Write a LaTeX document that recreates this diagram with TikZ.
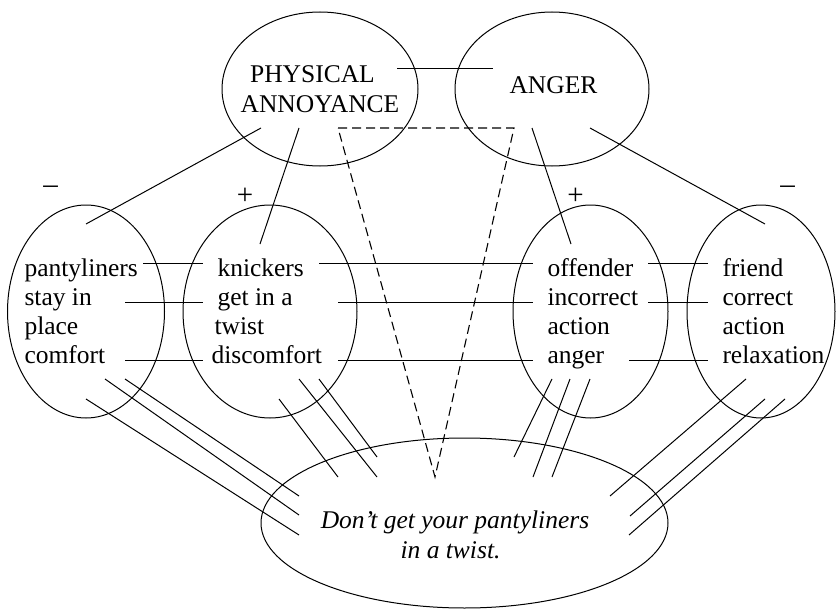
\documentclass[tikz,border=0pt]{standalone}
\usepackage{fontspec}
\setmainfont{Liberation Serif}
\usetikzlibrary{shapes.geometric}
\begin{document}
\begin{tikzpicture}[x=1pt,y=-1pt,line width=1pt,
  oval/.style={draw,ellipse,inner sep=0pt},
  lbl/.style={inner sep=0pt,font=\fontsize{25.5}{29}\selectfont},
  sgn/.style={inner sep=0pt,font=\fontsize{29}{29}\selectfont},
  ital/.style={lbl,font=\fontsize{25.5}{29}\selectfont\itshape},
  dsh/.style={dash pattern=on 9pt off 5pt}]
\useasboundingbox (0,0) rectangle (836,610);
% ellipses
\node[oval,minimum width=196pt,minimum height=154pt] (pa) at (320,89) {};
\node[oval,minimum width=194pt,minimum height=154pt] (an) at (552,89) {};
\node[oval,minimum width=157pt,minimum height=213pt] (e1) at (86,311.5) {};
\node[oval,minimum width=174pt,minimum height=213pt] (e2) at (270,311.5) {};
\node[oval,minimum width=155pt,minimum height=213pt] (e3) at (590.5,311.5) {};
\node[oval,minimum width=148pt,minimum height=213pt] (e4) at (761,311.5) {};
\node[oval,minimum width=407pt,minimum height=170pt] (eb) at (464.5,523) {};
% top texts
\node[lbl,anchor=base] (pa1) at (312.5,83) {PHYSICAL};
\node[lbl,anchor=base] (pa2) at (320,113) {ANNOYANCE};
\node[lbl,anchor=base] (an1) at (553.5,94) {ANGER};
% signs
\node[sgn,anchor=base] (s1) at (50.5,193) {–};
\node[sgn,anchor=base] (s2) at (245,204.5) {+};
\node[sgn,anchor=base] (s3) at (575.5,204.5) {+};
\node[sgn,anchor=base] (s4) at (787.5,193) {–};
% column texts
\node[lbl,anchor=base west] (c11) at (24,276) {pantyliners};
\node[lbl,anchor=base west] (c12) at (24,305) {stay in};
\node[lbl,anchor=base west] (c13) at (24,334) {place};
\node[lbl,anchor=base west] (c14) at (24,363) {comfort};
\node[lbl,anchor=base west] (c21) at (217,276) {knickers};
\node[lbl,anchor=base west] (c22) at (217,305) {get in a};
\node[lbl,anchor=base west] (c23) at (214,334) {twist};
\node[lbl,anchor=base west] (c24) at (211,363) {discomfort};
\node[lbl,anchor=base west] (c31) at (547,276) {offender};
\node[lbl,anchor=base west] (c32) at (547,305) {incorrect};
\node[lbl,anchor=base west] (c33) at (547,334) {action};
\node[lbl,anchor=base west] (c34) at (547,363) {anger};
\node[lbl,anchor=base west] (c41) at (722,276) {friend};
\node[lbl,anchor=base west] (c42) at (722,305) {correct};
\node[lbl,anchor=base west] (c43) at (722,334) {action};
\node[lbl,anchor=base west] (c44) at (722,363) {relaxation};
% bottom text
\node[ital,anchor=base] (b1) at (455,528) {Don’t get your pantyliners};
\node[ital,anchor=base] (b2) at (450.5,558) {in a twist.};
% connectors
\foreach \n/\xa/\ya/\xb/\yb in {
  t0/397/69/493/69,
  t1/261/128/86/224, t2/299/128/260/244, t3/532/128/571/244, t4/590/128/765/224,
  h11/143/263/203/263, h12/319/263/533/263, h13/648/263/708/263,
  h21/125/302/203/302, h22/338/302/533/302, h23/648/302/708/302,
  h41/125/360/203/360, h42/338/360/533/360, h43/629/360/708/360,
  g11/86/399/299/535, g12/105/379/299/515, g13/125/379/299/496,
  g21/279/399/338/477, g22/299/379/377/477, g23/319/379/377/457,
  g31/552/379/514/457, g32/570/379/533/477, g33/590/379/552/477,
  g41/746/379/610/496, g42/765/399/630/516, g43/785/399/629/535}{
  \coordinate (\n a) at (\xa,\ya);
  \coordinate (\n b) at (\xb,\yb);
  \draw (\n a) -- (\n b);
}
% dashed triangle
\coordinate (d1) at (338,128);
\coordinate (d2) at (514,128);
\coordinate (d3) at (435,477);
\draw[dsh,line width=1.1pt] (d1) -- (d2) -- (d3) -- cycle;
\end{tikzpicture}
\end{document}
